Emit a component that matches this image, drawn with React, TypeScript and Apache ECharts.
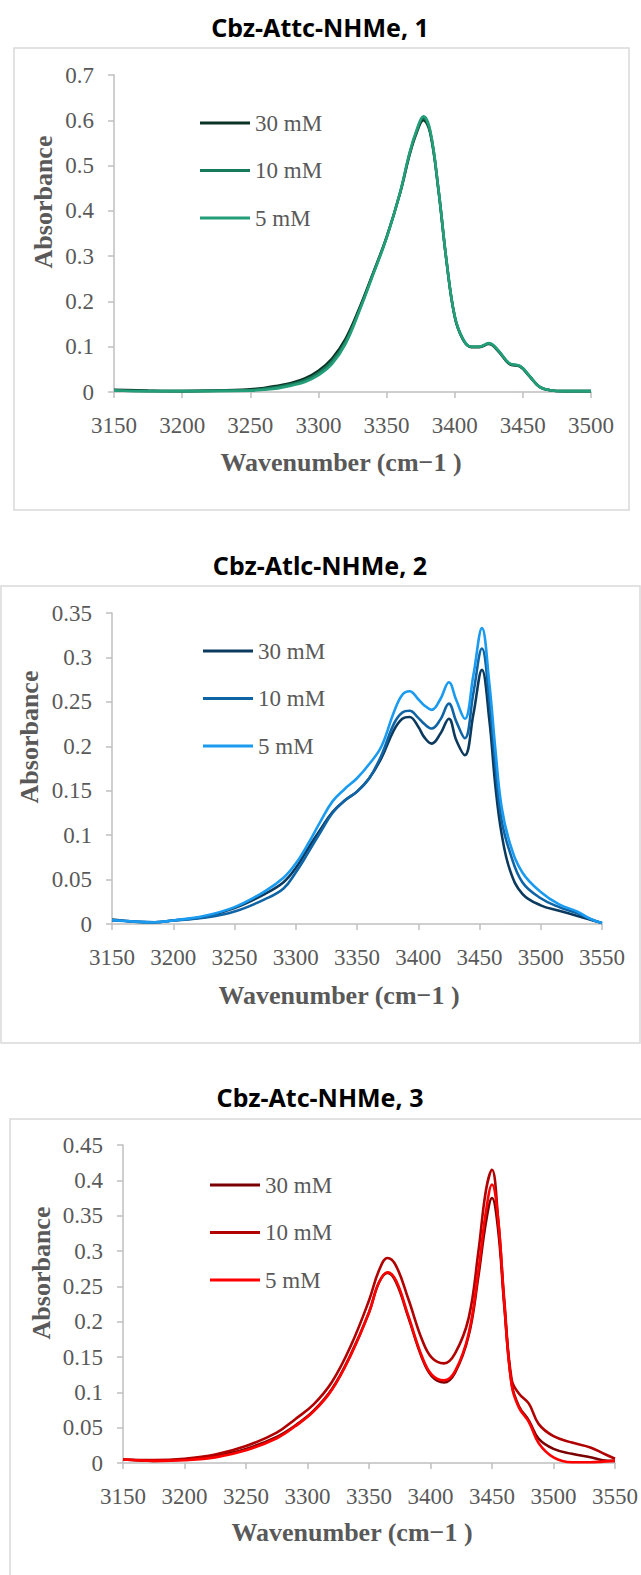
import React, { useEffect, useRef } from "react";
import * as echarts from "echarts";

// ---------- Panel 1: Cbz-Attc-NHMe, 1 ----------
const WN1 = [3150, 3175, 3200, 3225, 3250, 3260, 3270, 3280, 3290, 3300, 3310, 3320, 3330, 3340, 3350, 3360, 3367, 3372, 3377, 3382, 3388, 3394, 3400, 3406, 3412, 3418, 3425, 3432, 3440, 3448, 3455, 3462, 3470, 3480, 3500];
const P1_30 = [0.005, 0.003, 0.002, 0.003, 0.006, 0.009, 0.014, 0.02, 0.03, 0.047, 0.074, 0.118, 0.185, 0.262, 0.342, 0.44, 0.525, 0.572, 0.6, 0.572, 0.447, 0.288, 0.166, 0.116, 0.099, 0.099, 0.106, 0.09, 0.062, 0.056, 0.034, 0.012, 0.004, 0.002, 0.002];
const P1_10 = [0.004, 0.002, 0.002, 0.003, 0.004, 0.007, 0.011, 0.017, 0.026, 0.042, 0.068, 0.112, 0.181, 0.26, 0.341, 0.441, 0.528, 0.575, 0.605, 0.575, 0.449, 0.289, 0.167, 0.117, 0.1, 0.1, 0.107, 0.091, 0.063, 0.057, 0.035, 0.012, 0.004, 0.002, 0.002];
const P1_5 = [0.004, 0.002, 0.002, 0.002, 0.003, 0.005, 0.008, 0.014, 0.022, 0.037, 0.062, 0.107, 0.178, 0.258, 0.34, 0.442, 0.53, 0.578, 0.609, 0.578, 0.45, 0.29, 0.168, 0.118, 0.1, 0.1, 0.108, 0.092, 0.064, 0.057, 0.035, 0.012, 0.004, 0.002, 0.002];

// ---------- Panel 2: Cbz-Atlc-NHMe, 2 ----------
const WN2 = [3150, 3165, 3185, 3200, 3225, 3250, 3275, 3290, 3300, 3310, 3320, 3330, 3340, 3350, 3360, 3370, 3380, 3387, 3393, 3400, 3405, 3411, 3418, 3425, 3431, 3438, 3445, 3452, 3458, 3463, 3468, 3475, 3485, 3500, 3515, 3530, 3540, 3550];
const P2_30 = [0.005, 0.003, 0.002, 0.004, 0.008, 0.018, 0.034, 0.047, 0.063, 0.085, 0.106, 0.126, 0.139, 0.149, 0.164, 0.187, 0.218, 0.231, 0.233, 0.222, 0.21, 0.203, 0.214, 0.231, 0.207, 0.19, 0.236, 0.286, 0.23, 0.155, 0.102, 0.06, 0.034, 0.021, 0.015, 0.009, 0.005, 0.001];
const P2_10 = [0.004, 0.003, 0.002, 0.004, 0.007, 0.014, 0.028, 0.04, 0.058, 0.08, 0.103, 0.125, 0.139, 0.149, 0.164, 0.19, 0.225, 0.238, 0.24, 0.232, 0.225, 0.22, 0.23, 0.248, 0.228, 0.209, 0.26, 0.31, 0.252, 0.177, 0.117, 0.08, 0.047, 0.029, 0.019, 0.012, 0.006, 0.001];
const P2_5 = [0.0045, 0.003, 0.002, 0.004, 0.009, 0.019, 0.037, 0.052, 0.068, 0.09, 0.115, 0.138, 0.152, 0.164, 0.18, 0.2, 0.238, 0.258, 0.262, 0.253, 0.246, 0.241, 0.253, 0.272, 0.252, 0.231, 0.28, 0.333, 0.271, 0.196, 0.132, 0.09, 0.058, 0.036, 0.022, 0.014, 0.006, 0.001];

// ---------- Panel 3: Cbz-Atc-NHMe, 3 ----------
const WN3 = [3150, 3175, 3200, 3225, 3250, 3275, 3290, 3305, 3320, 3335, 3350, 3358, 3365, 3372, 3382, 3393, 3401, 3411, 3420, 3431, 3439, 3445, 3450, 3455, 3460, 3466, 3472, 3480, 3488, 3500, 3515, 3530, 3540, 3550];
const P3_30 = [0.005, 0.003, 0.005, 0.01, 0.02, 0.037, 0.053, 0.074, 0.105, 0.153, 0.213, 0.255, 0.269, 0.256, 0.206, 0.149, 0.123, 0.114, 0.128, 0.18, 0.265, 0.34, 0.375, 0.33, 0.222, 0.112, 0.08, 0.06, 0.034, 0.02, 0.013, 0.008, 0.004, 0.003];
const P3_10 = [0.005, 0.004, 0.006, 0.012, 0.024, 0.043, 0.062, 0.083, 0.115, 0.165, 0.23, 0.272, 0.29, 0.279, 0.232, 0.175, 0.149, 0.141, 0.155, 0.205, 0.3, 0.385, 0.415, 0.345, 0.23, 0.118, 0.098, 0.084, 0.055, 0.038, 0.029, 0.022, 0.014, 0.006];
const P3_5 = [0.005, 0.003, 0.004, 0.008, 0.018, 0.035, 0.052, 0.073, 0.104, 0.152, 0.213, 0.255, 0.27, 0.258, 0.208, 0.151, 0.125, 0.117, 0.13, 0.183, 0.273, 0.355, 0.394, 0.345, 0.225, 0.11, 0.078, 0.058, 0.028, 0.008, 0.001, 0.001, 0.002, 0.003];

const LABELS = ["30 mM", "10 mM", "5 mM"];
const TITLES = ["Cbz-Attc-NHMe, 1", "Cbz-Atlc-NHMe, 2", "Cbz-Atc-NHMe, 3"];
const X_TITLE = "Wavenumber (cm\u22121 )";
const Y_TITLE = "Absorbance";

const X_MAX = [3500, 3550, 3550];
const Y_MAX = [0.7, 0.35, 0.45];
const Y_STEP = [0.1, 0.05, 0.05];

const COLORS = [
  ["#0b3324", "#17785a", "#239e78"],
  ["#0c3a5e", "#0f64a6", "#1a9bf0"],
  ["#7a0000", "#b00000", "#ff0000"],
];

const SERIF = "Liberation Serif";
const SANS = "Noto Sans";
const GRAY = "#595959";
const AXIS_GRAY = "#bfbfbf";

// layout (pixels)
const GRIDS = [
  { left: 114, top: 75, width: 477, height: 317 },
  { left: 112, top: 613, width: 490, height: 311 },
  { left: 123, top: 1145, width: 494, height: 318 },
];
const LEGEND_POS = [
  { left: 200, top: 111.5 },
  { left: 203, top: 639.5 },
  { left: 210, top: 1173.5 },
];
const TITLE_POS = [
  { x: 320, y: 27 },
  { x: 320, y: 565 },
  { x: 320, y: 1097 },
];
const XT_POS = [
  { x: 341, y: 462 },
  { x: 339, y: 995 },
  { x: 352, y: 1532 },
];
const YT_POS = [
  { x: 43, y: 202 },
  { x: 29, y: 737 },
  { x: 41, y: 1273 },
];
const BORDERS = [
  { x: 14, y: 48, width: 615, height: 462 },
  { x: 1, y: 586, width: 639, height: 457 },
  { x: 10, y: 1119, width: 640, height: 470 },
];

function zip(xs: number[], ys: number[]) {
  return xs.map((x, i) => [x, ys[i]]);
}

export default function App() {
  const ref = useRef<HTMLDivElement>(null);
  useEffect(() => {
    document.body.style.margin = "0";
    const chart = echarts.init(ref.current!, null, { renderer: "svg" });
    const panelSeries = [
      [P1_30, P1_10, P1_5].map((ys) => zip(WN1, ys)),
      [P2_30, P2_10, P2_5].map((ys) => zip(WN2, ys)),
      [P3_30, P3_10, P3_5].map((ys) => zip(WN3, ys)),
    ];

    const series: any[] = [];
    const legends: any[] = [];
    panelSeries.forEach((sets, p) => {
      const names: string[] = [];
      sets.forEach((data, k) => {
        const name = `p${p}_${k}`;
        names.push(name);
        series.push({
          type: "line",
          name,
          xAxisIndex: p,
          yAxisIndex: p,
          data,
          smooth: 0.4,
          showSymbol: false,
          symbol: "none",
          silent: true,
          lineStyle: { color: COLORS[p][k], width: 2.6 },
          itemStyle: { color: COLORS[p][k] },
          emphasis: { disabled: true },
        });
      });
      legends.push({
        ...LEGEND_POS[p],
        orient: "vertical",
        data: names.map((n) => ({ name: n, icon: "rect" })),
        itemWidth: 50,
        itemHeight: 3,
        itemGap: 24.5,
        selectedMode: false,
        padding: 0,
        formatter: (n: string) => LABELS[Number(n.split("_")[1])],
        textStyle: { fontFamily: SERIF, fontSize: 23, color: GRAY, lineHeight: 23 },
      });
    });

    const graphic: any[] = [];
    BORDERS.forEach((b) => {
      graphic.push({
        type: "rect",
        shape: { ...b },
        style: { fill: "none", stroke: "#d9d9d9", lineWidth: 1.5 },
        silent: true,
      });
    });
    TITLES.forEach((t, p) => {
      graphic.push({
        type: "text",
        x: TITLE_POS[p].x,
        y: TITLE_POS[p].y,
        style: {
          text: t,
          font: `bold 25px ${SANS}`,
          fill: "#000",
          textAlign: "center",
          textVerticalAlign: "middle",
        },
      });
      graphic.push({
        type: "text",
        x: XT_POS[p].x,
        y: XT_POS[p].y,
        style: {
          text: X_TITLE,
          font: `bold 26px ${SERIF}`,
          fill: GRAY,
          textAlign: "center",
          textVerticalAlign: "middle",
        },
      });
      graphic.push({
        type: "text",
        x: YT_POS[p].x,
        y: YT_POS[p].y,
        rotation: Math.PI / 2,
        style: {
          text: Y_TITLE,
          font: `bold 26px ${SERIF}`,
          fill: GRAY,
          textAlign: "center",
          textVerticalAlign: "middle",
        },
      });
    });

    const option: any = {
      animation: false,
      backgroundColor: "#fff",
      grid: GRIDS.map((g) => ({ ...g, containLabel: false })),
      xAxis: GRIDS.map((_, p) => ({
        type: "value",
        gridIndex: p,
        min: 3150,
        max: X_MAX[p],
        interval: 50,
        axisLine: { show: true, onZero: false, lineStyle: { color: AXIS_GRAY, width: 1.5 } },
        axisTick: { show: true, length: 6, lineStyle: { color: AXIS_GRAY, width: 1.5 } },
        axisLabel: {
          color: GRAY,
          fontFamily: SERIF,
          fontSize: 23,
          margin: 22,
          formatter: (v: number) => String(v),
        },
        splitLine: { show: false },
      })),
      yAxis: GRIDS.map((_, p) => ({
        type: "value",
        gridIndex: p,
        min: 0,
        max: Y_MAX[p],
        interval: Y_STEP[p],
        axisLine: { show: true, lineStyle: { color: AXIS_GRAY, width: 1.5 } },
        axisTick: { show: true, length: 6, lineStyle: { color: AXIS_GRAY, width: 1.5 } },
        axisLabel: {
          color: GRAY,
          fontFamily: SERIF,
          fontSize: 23,
          margin: 20,
          formatter: (v: number) => String(Math.round(v * 1000) / 1000),
        },
        splitLine: { show: false },
      })),
      legend: legends,
      series,
      graphic,
    };
    chart.setOption(option);
    return () => chart.dispose();
  }, []);
  return <div ref={ref} style={{ width: 641, height: 1575 }} />;
}
